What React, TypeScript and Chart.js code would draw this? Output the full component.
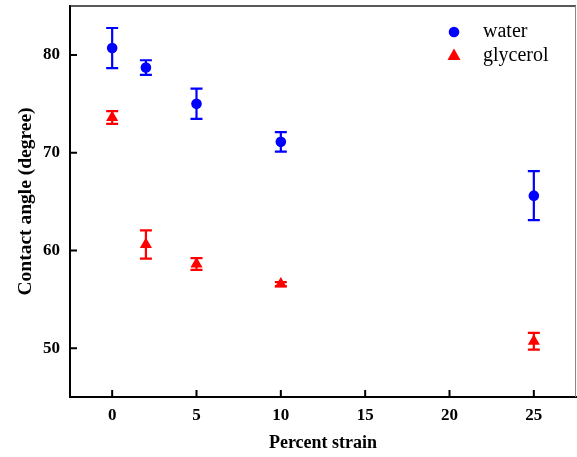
import React, { useEffect, useRef } from "react";
import { Chart, registerables } from "chart.js";

Chart.register(...registerables);

const strain = [0, 2, 5, 10, 25];
const waterAngle = [80.7, 78.7, 75.0, 71.1, 65.6];
const waterErr = [2.05, 0.75, 1.55, 1.0, 2.5];
const glycerolAngle = [73.6, 60.6, 58.6, 56.55, 50.7];
const glycerolErr = [0.65, 1.45, 0.6, 0.2, 0.85];
const xTicks = [0, 5, 10, 15, 20, 25];
const yTicks = [50, 60, 70, 80];
const seriesNames = ["water", "glycerol"];

const SERIF = '"Liberation Serif", "Times New Roman", serif';
const BLUE = "#0000ff";
const RED = "#ff0000";

const errorBarPlugin = {
  id: "errorBars",
  afterDatasetsDraw(chart: any) {
    const { ctx, scales } = chart;
    const x = scales.x;
    const y = scales.y;
    const sets = [
      { vals: waterAngle, errs: waterErr, color: BLUE },
      { vals: glycerolAngle, errs: glycerolErr, color: RED },
    ];
    ctx.save();
    ctx.lineWidth = 2.2;
    for (const s of sets) {
      ctx.strokeStyle = s.color;
      strain.forEach((sx, i) => {
        const px = x.getPixelForValue(sx);
        const top = y.getPixelForValue(s.vals[i] + s.errs[i]);
        const bot = y.getPixelForValue(s.vals[i] - s.errs[i]);
        ctx.beginPath();
        ctx.moveTo(px, top);
        ctx.lineTo(px, bot);
        ctx.moveTo(px - 6, top);
        ctx.lineTo(px + 6, top);
        ctx.moveTo(px - 6, bot);
        ctx.lineTo(px + 6, bot);
        ctx.stroke();
      });
    }
    ctx.restore();
  },
};

const framePlugin = {
  id: "frame",
  afterDraw(chart: any) {
    const { ctx, chartArea, scales } = chart;
    const { left, right, top, bottom } = chartArea;
    ctx.save();
    ctx.strokeStyle = "#222";
    ctx.lineWidth = 1.5;
    ctx.beginPath();
    ctx.moveTo(left, top);
    ctx.lineTo(right, top);
    ctx.stroke();
    ctx.strokeStyle = "#888";
    ctx.lineWidth = 1;
    ctx.beginPath();
    ctx.moveTo(right - 0.5, top);
    ctx.lineTo(right - 0.5, bottom);
    ctx.stroke();
    ctx.strokeStyle = "#000";
    ctx.lineWidth = 2;
    ctx.beginPath();
    for (const v of xTicks) {
      const px = scales.x.getPixelForValue(v);
      ctx.moveTo(px, bottom);
      ctx.lineTo(px, bottom - 7);
    }
    for (const v of yTicks) {
      const py = scales.y.getPixelForValue(v);
      ctx.moveTo(left, py);
      ctx.lineTo(left + 7, py);
    }
    ctx.stroke();
    const lx = 454;
    const rows = [32, 55];
    ctx.fillStyle = BLUE;
    ctx.beginPath();
    ctx.arc(lx, rows[0], 5.3, 0, Math.PI * 2);
    ctx.fill();
    ctx.fillStyle = RED;
    ctx.beginPath();
    ctx.moveTo(lx, rows[1] - 6.5);
    ctx.lineTo(lx + 6.5, rows[1] + 5);
    ctx.lineTo(lx - 6.5, rows[1] + 5);
    ctx.closePath();
    ctx.fill();
    ctx.fillStyle = "#000";
    ctx.font = `20px ${SERIF}`;
    ctx.textBaseline = "middle";
    ctx.textAlign = "left";
    ctx.fillText(seriesNames[0], 483, rows[0]);
    ctx.fillText(seriesNames[1], 483, rows[1] + 1);
    ctx.restore();
  },
};

const zeroPad = (s: any) => {
  s.paddingTop = 0;
  s.paddingBottom = 0;
  s.paddingLeft = 0;
  s.paddingRight = 0;
};

export default function App() {
  const ref = useRef<HTMLCanvasElement | null>(null);
  useEffect(() => {
    if (!ref.current) return;
    const chart = new Chart(ref.current, {
      type: "scatter",
      data: {
        datasets: [
          {
            label: seriesNames[0],
            data: strain.map((s, i) => ({ x: s, y: waterAngle[i] })),
            backgroundColor: BLUE,
            borderColor: BLUE,
            pointStyle: "circle",
            pointRadius: 5.3,
            borderWidth: 0,
          },
          {
            label: seriesNames[1],
            data: strain.map((s, i) => ({ x: s, y: glycerolAngle[i] })),
            backgroundColor: RED,
            borderColor: RED,
            pointStyle: "triangle",
            pointRadius: 7,
            borderWidth: 0,
          },
        ],
      },
      options: {
        responsive: false,
        animation: false,
        layout: { autoPadding: false, padding: { top: 6, right: 1, left: 0, bottom: 0 } },
        plugins: { legend: { display: false }, tooltip: { enabled: false } },
        scales: {
          x: {
            type: "linear",
            min: -2.5,
            max: 27.5,
            afterBuildTicks: (s: any) => {
              s.ticks = xTicks.map((v) => ({ value: v }));
            },
            afterFit: (s: any) => {
              s.height = 60;
              zeroPad(s);
            },
            grid: { display: false, drawTicks: false },
            border: { display: true, color: "#000", width: 2 },
            ticks: {
              color: "#000",
              padding: 8,
              font: { family: SERIF, size: 17, weight: "bold" },
            },
            title: {
              display: true,
              text: "Percent strain",
              color: "#000",
              font: { family: SERIF, size: 18, weight: "bold" },
              padding: { top: 0, bottom: 3 },
            },
          },
          y: {
            type: "linear",
            min: 45,
            max: 85,
            afterBuildTicks: (s: any) => {
              s.ticks = yTicks.map((v) => ({ value: v }));
            },
            afterFit: (s: any) => {
              s.width = 70;
              zeroPad(s);
            },
            grid: { display: false, drawTicks: false },
            border: { display: true, color: "#000", width: 2 },
            ticks: {
              color: "#000",
              padding: 10,
              font: { family: SERIF, size: 17, weight: "bold" },
            },
            title: {
              display: true,
              text: "Contact angle (degree)",
              color: "#000",
              font: { family: SERIF, size: 19.5, weight: "bold" },
              padding: { top: 14, bottom: 0 },
            },
          },
        },
      },
      plugins: [errorBarPlugin, framePlugin],
    } as any);
    return () => chart.destroy();
  }, []);
  return (
    <div style={{ position: "absolute", left: 0, top: 0, width: 577, height: 457, background: "#fff" }}>
      <canvas ref={ref} width={577} height={457} />
    </div>
  );
}
